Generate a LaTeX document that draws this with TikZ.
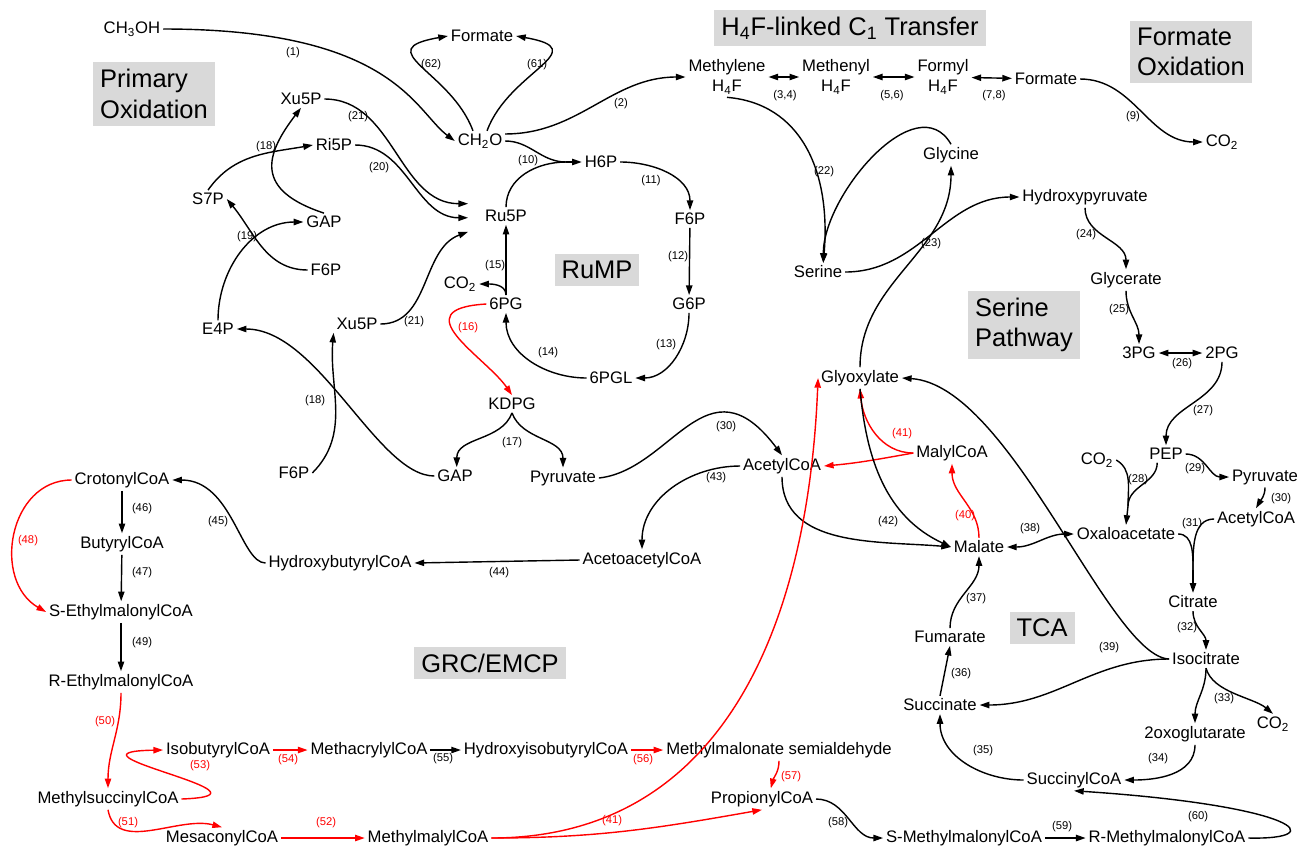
\documentclass[tikz,border=0pt]{standalone}
\usepackage{fontspec}
\setmainfont{Liberation Sans}
\usetikzlibrary{arrows.meta}
\definecolor{boxgray}{RGB}{217,217,217}

\begin{document}
\begin{tikzpicture}[
    x=0.02cm, y=0.02cm,
    met/.style={font=\fontsize{9.5}{11.4}\selectfont, inner sep=1.5pt, align=center},
    pathname/.style={fill=boxgray, font=\fontsize{14.5}{17.4}\selectfont, align=left, inner sep=4pt},
    num/.style={font=\fontsize{6.4}{7.7}\selectfont, inner sep=0pt},
    numred/.style={num, text=red},
    conn/.style={line width=0.8pt},
    arrow/.style={conn, -{Triangle[length=5.5pt,width=3.6pt]}},
    redarrow/.style={arrow, red},
    revarrow/.style={conn, {Triangle[length=5.5pt,width=3.6pt]}-{Triangle[length=5.5pt,width=3.6pt]}}
]
\useasboundingbox (0,0) rectangle (1307,-853);

% Pathway names
\node[pathname] (tprim) at (154,-94) {Primary\\Oxidation};
\node[pathname] (th4f) at (850,-28) {H\textsubscript{4}F-linked C\textsubscript{1} Transfer};
\node[pathname] (tform) at (1191,-52) {Formate\\Oxidation};
\node[pathname] (trump) at (597,-270) {RuMP};
\node[pathname] (tser) at (1024,-325) {Serine\\Pathway};
\node[pathname] (tgrc) at (490,-663) {GRC/EMCP};
\node[pathname] (ttca) at (1042,-628) {TCA};

% Primary oxidation
\node[met] (ch3oh) at (132,-29) {CH\textsubscript{3}OH};
\node[met] (form1) at (482,-36) {Formate};
\node[met] (ch2o) at (480,-141) {CH\textsubscript{2}O};

% H4F-linked C1 transfer
\node[met] (mthf) at (727,-77) {Methylene\\H\textsubscript{4}F};
\node[met] (methf) at (836,-77) {Methenyl\\H\textsubscript{4}F};
\node[met] (fthf) at (943,-77) {Formyl\\H\textsubscript{4}F};
\node[met] (form2) at (1046,-79) {Formate};
\node[met] (co2d) at (1222,-142) {CO\textsubscript{2}};

% Pentose phosphates
\node[met] (xu5pa) at (301,-99) {Xu5P};
\node[met] (ri5p) at (334,-145) {Ri5P};
\node[met] (s7p) at (208,-199) {S7P};
\node[met] (gapa) at (324,-222) {GAP};
\node[met] (f6pa) at (326,-270) {F6P};
\node[met] (e4p) at (218,-329) {E4P};
\node[met] (xu5pb) at (357,-324) {Xu5P};
\node[met] (f6pb) at (294,-473) {F6P};
\node[met] (gapb) at (455,-476) {GAP};

% RuMP
\node[met] (ru5p) at (506,-216) {Ru5P};
\node[met] (h6p) at (601,-162) {H6P};
\node[met] (f6pc) at (690,-219) {F6P};
\node[met] (g6p) at (689,-304) {G6P};
\node[met] (pgl) at (611,-378) {6PGL};
\node[met] (pg) at (506,-304) {6PG};
\node[met] (co2a) at (460,-284) {CO\textsubscript{2}};
\node[met] (kdpg) at (512,-404) {KDPG};
\node[met] (pyra) at (563,-478) {Pyruvate};

% Serine pathway
\node[met] (ser) at (818,-272) {Serine};
\node[met] (gly) at (951,-155) {Glycine};
\node[met] (hpyr) at (1085,-197) {Hydroxypyruvate};
\node[met] (glyc) at (1126,-280) {Glycerate};
\node[met] (pga3) at (1139,-353) {3PG};
\node[met] (pga2) at (1222,-353) {2PG};
\node[met] (pep) at (1166,-454) {PEP};
\node[met] (co2b) at (1097,-460) {CO\textsubscript{2}};
\node[met] (pyrb) at (1265,-477) {Pyruvate};
\node[met] (acoab) at (1256,-519) {AcetylCoA};
\node[met] (oaa) at (1126,-534) {Oxaloacetate};
\node[met] (mal) at (979,-547) {Malate};
\node[met] (malyl) at (952,-453) {MalylCoA};
\node[met] (glyox) at (860,-378) {Glyoxylate};
\node[met] (acoaa) at (782,-466) {AcetylCoA};

% TCA
\node[met] (cit) at (1193,-602) {Citrate};
\node[met] (icit) at (1206,-659) {Isocitrate};
\node[met] (oxog) at (1195,-734) {2oxoglutarate};
\node[met] (co2c) at (1273,-724) {CO\textsubscript{2}};
\node[met] (succoa) at (1074,-780) {SuccinylCoA};
\node[met] (succ) at (940,-705) {Succinate};
\node[met] (fum) at (950,-637) {Fumarate};

% GRC/EMCP
\node[met] (acac) at (642,-560) {AcetoacetylCoA};
\node[met] (hbut) at (340,-563) {HydroxybutyrylCoA};
\node[met] (crot) at (122,-480) {CrotonylCoA};
\node[met] (buty) at (122,-544) {ButyrylCoA};
\node[met] (sethm) at (121,-612) {S-EthylmalonylCoA};
\node[met] (rethm) at (121,-682) {R-EthylmalonylCoA};
\node[met] (msucc) at (108,-799) {MethylsuccinylCoA};
\node[met] (isob) at (218,-750) {IsobutyrylCoA};
\node[met] (meacr) at (369,-750) {MethacrylylCoA};
\node[met] (hiso) at (546,-750) {HydroxyisobutyrylCoA};
\node[met] (mmsa) at (779,-750) {Methylmalonate semialdehyde};
\node[met] (mesa) at (222,-838) {MesaconylCoA};
\node[met] (mmal) at (428,-838) {MethylmalylCoA};
\node[met] (prop) at (762,-799) {PropionylCoA};
\node[met] (smm) at (964,-838) {S-MethylmalonylCoA};
\node[met] (rmm) at (1167,-838) {R-MethylmalonylCoA};

% Merge points and arrow ends
\coordinate (m10) at (566,-162);
\coordinate (m28) at (1128,-506);
\coordinate (m31) at (1193,-570);
\coordinate (ru5pa) at ([xshift=-8pt,yshift=7pt]ru5p.west);
\coordinate (ru5pb) at ([xshift=-8pt,yshift=-1pt]ru5p.west);
\coordinate (ru5pc) at ([xshift=-8pt,yshift=-9pt]ru5p.west);
\coordinate (sera) at ([xshift=3pt]ser.north);

% Reaction numbers
\node[num] (n1) at (293,-53) {(1)};
\node[num] (n62) at (431,-65) {(62)};
\node[num] (n61) at (537,-65) {(61)};
\node[num] (n2) at (621,-104) {(2)};
\node[num] (n3) at (785,-96) {(3,4)};
\node[num] (n5) at (892,-96) {(5,6)};
\node[num] (n7) at (994,-96) {(7,8)};
\node[num] (n9) at (1133,-117) {(9)};
\node[num] (n10) at (528,-161) {(10)};
\node[num] (n11) at (651,-181) {(11)};
\node[num] (n12) at (678,-257) {(12)};
\node[num] (n13) at (666,-345) {(13)};
\node[num] (n14) at (548,-353) {(14)};
\node[num] (n15) at (495,-266) {(15)};
\node[numred] (n16) at (468,-328) {(16)};
\node[num] (n17) at (512,-443) {(17)};
\node[num] (n18a) at (266,-147) {(18)};
\node[num] (n19) at (247,-237) {(19)};
\node[num] (n20) at (379,-168) {(20)};
\node[num] (n21a) at (358,-117) {(21)};
\node[num] (n21b) at (414,-322) {(21)};
\node[num] (n18b) at (315,-401) {(18)};
\node[num] (n22) at (824,-172) {(22)};
\node[num] (n23) at (931,-244) {(23)};
\node[num] (n24) at (1086,-235) {(24)};
\node[num] (n25) at (1119,-310) {(25)};
\node[num] (n26) at (1182,-364) {(26)};
\node[num] (n27) at (1203,-411) {(27)};
\node[num] (n28) at (1138,-480) {(28)};
\node[num] (n29) at (1195,-469) {(29)};
\node[num] (n30b) at (1281,-499) {(30)};
\node[num] (n31) at (1192,-524) {(31)};
\node[num] (n30a) at (726,-427) {(30)};
\node[num] (n32) at (1187,-628) {(32)};
\node[num] (n33) at (1224,-699) {(33)};
\node[num] (n34) at (1158,-759) {(34)};
\node[num] (n35) at (983,-751) {(35)};
\node[num] (n36) at (961,-674) {(36)};
\node[num] (n37) at (976,-599) {(37)};
\node[num] (n38) at (1030,-529) {(38)};
\node[num] (n39) at (1109,-648) {(39)};
\node[numred] (n40) at (965,-516) {(40)};
\node[numred] (n41a) at (902,-434) {(41)};
\node[num] (n42) at (888,-522) {(42)};
\node[num] (n43) at (716,-478) {(43)};
\node[num] (n44) at (499,-573) {(44)};
\node[num] (n45) at (218,-522) {(45)};
\node[num] (n46) at (142,-509) {(46)};
\node[num] (n47) at (142,-573) {(47)};
\node[numred] (n48) at (28,-541) {(48)};
\node[num] (n49) at (142,-643) {(49)};
\node[numred] (n50) at (105,-722) {(50)};
\node[numred] (n51) at (128,-823) {(51)};
\node[numred] (n52) at (326,-823) {(52)};
\node[numred] (n53) at (200,-766) {(53)};
\node[numred] (n54) at (288,-760) {(54)};
\node[num] (n55) at (443,-759) {(55)};
\node[numred] (n56) at (643,-760) {(56)};
\node[numred] (n57) at (791,-777) {(57)};
\node[numred] (n41b) at (612,-821) {(41)};
\node[num] (n58) at (838,-823) {(58)};
\node[num] (n59) at (1062,-827) {(59)};
\node[num] (n60) at (1198,-817) {(60)};

% Primary oxidation arrows
\draw[arrow] (ch3oh.east) .. controls +(230,0) and +(-40,30) .. (ch2o.west);
\draw[arrow] ([xshift=-4pt]ch2o.north) .. controls +(-22,60) and +(-80,-14) .. (form1.west);
\draw[arrow] ([xshift=4pt]ch2o.north) .. controls +(22,60) and +(80,-14) .. (form1.east);
\draw[arrow] ([yshift=4pt]ch2o.east) to[out=0,in=180] (mthf.west);

% H4F arrows
\draw[revarrow] (mthf) -- (methf);
\draw[revarrow] (methf) -- (fthf);
\draw[revarrow] (fthf) -- (form2);
\draw[arrow] (form2.east) to[out=0,in=180] (co2d.west);

% RuMP arrows
\draw[conn] (ch2o.east) to[out=0,in=180] (m10);
\draw[conn] (ru5p.north) to[out=90,in=180] (m10);
\draw[arrow] (m10) -- (h6p.west);
\draw[arrow] (h6p.east) to[out=0,in=90] (f6pc.north);
\draw[arrow] (f6pc) -- (g6p);
\draw[arrow] (g6p.south) to[out=-90,in=0] (pgl.east);
\draw[arrow] (pgl.west) to[out=180,in=-90] (pg.south);
\draw[arrow] (pg.north) -- (ru5p.south);
\draw[arrow] (pg.north) to[out=90,in=0] (co2a.east);
\draw[redarrow] (pg.west) .. controls +(-85,-5) and +(-26,38) .. (kdpg.north);
\draw[arrow] (kdpg.south) to[out=-110,in=90] ([xshift=1pt]gapb.north);
\draw[arrow] (kdpg.south) to[out=-70,in=90] (pyra.north);

% Pentose phosphate arrows
\draw[arrow] (xu5pa.east) to[out=0,in=180] (ru5pa);
\draw[arrow] (ri5p.east) to[out=0,in=180] (ru5pb);
\draw[arrow] (xu5pb.east) to[out=0,in=200] (ru5pc);
\draw[arrow] (s7p.north) to[out=55,in=190] (ri5p.west);
\draw[arrow] (gapa.north) .. controls +(-70,23) and +(-36,-47) .. (xu5pa.south);
\draw[arrow] (e4p.north) to[out=90,in=180] (gapa.west);
\draw[arrow] (f6pa.west) to[out=180,in=-50] (s7p.east);
\draw[arrow] (f6pb.east) to[out=45,in=-95] (xu5pb.south west);
\draw[arrow] (gapb.west) .. controls +(-57,0) and +(82,0) .. (e4p.east);

% Serine pathway arrows
\draw[arrow] (mthf.south) .. controls +(73,-6) and +(8,93) .. (sera);
\draw[arrow] (gly.north) to[out=120,in=90] (sera);
\draw[arrow] (ser.east) to[out=0,in=180] (hpyr.west);
\draw[arrow] (glyox.north) to[out=90,in=-90] (gly.south);
\draw[arrow] (hpyr.south) to[out=-90,in=90] (glyc.north);
\draw[arrow] (glyc.south) to[out=-90,in=90] (pga3.north);
\draw[revarrow] (pga3) -- (pga2);
\draw[arrow] (pga2.south) to[out=-90,in=90] (pep.north);
\draw[conn] (co2b.east) to[out=-30,in=90] (m28);
\draw[conn] ([xshift=-5pt]pep.south) to[out=-90,in=90] (m28);
\draw[arrow] (m28) -- (oaa.north);
\draw[arrow] (pep.east) to[out=0,in=180] (pyrb.west);
\draw[arrow] (pyrb.south) to[out=-90,in=60] (acoab.north);
\draw[revarrow] (mal.east) to[out=0,in=180] (oaa.west);
\draw[redarrow] (mal.north) to[out=90,in=-90] (malyl.south);
\draw[redarrow] (malyl.west) to[out=180,in=-85] (glyox.south);
\draw[redarrow] (malyl.west) to[out=190,in=5] (acoaa.east);
\draw[arrow] (glyox.south) to[out=-85,in=155] (mal.west);
\draw[arrow] (acoaa.south) to[out=-90,in=175] (mal.west);
\draw[arrow] (pyra.east) .. controls +(73,8) and +(-75,100) .. (acoaa.north);

% TCA arrows
\draw[conn] (oaa.east) to[out=0,in=90] (m31);
\draw[conn] (acoab.west) to[out=180,in=90] (m31);
\draw[arrow] (m31) -- (cit.north);
\draw[arrow] (cit.south) to[out=-90,in=90] (icit.north);
\draw[arrow] (icit.south) to[out=-90,in=90] (oxog.north);
\draw[arrow] (icit.south) to[out=-75,in=140,looseness=0.8] (co2c.north);
\draw[arrow] (oxog.south) to[out=-90,in=0] (succoa.east);
\draw[arrow] (succoa.west) to[out=180,in=-90] (succ.south);
\draw[arrow] (succ.north) -- (fum.south);
\draw[arrow] (fum.north) to[out=90,in=-90] (mal.south);
\draw[arrow] (icit.west) to[out=180,in=0] (succ.east);
\draw[arrow] (icit.west) .. controls +(-60,2) and +(109,-7) .. (glyox.east);

% GRC/EMCP arrows
\draw[arrow] (acoaa.west) to[out=180,in=90] (acac.north);
\draw[arrow] (acac.west) -- (hbut.east);
\draw[arrow] (hbut.west) .. controls +(-25,0) and +(60,0) .. (crot.east);
\draw[arrow] (crot) -- (buty);
\draw[arrow] (buty) -- (sethm);
\draw[arrow] (sethm) -- (rethm);
\draw[redarrow] (crot.west) to[out=180,in=150,looseness=1.2] (sethm.west);
\draw[redarrow] (rethm.south) to[out=-90,in=90] (msucc.north);
\draw[redarrow] (msucc.east) .. controls +(110,4) and +(-115,-2) .. (isob.west);
\draw[redarrow] (msucc.south) to[out=-80,in=165] (mesa.north);
\draw[redarrow] (mesa) -- (mmal);
\draw[redarrow] (isob) -- (meacr);
\draw[arrow] (meacr) -- (hiso);
\draw[redarrow] (hiso) -- (mmsa);
\draw[redarrow] (mmsa.south) to[out=-90,in=75] ([xshift=5pt]prop.north);
\draw[redarrow] (mmal.east) .. controls +(230,0) and +(-10,-250) .. (glyox.west);
\draw[redarrow] (mmal.east) to[out=0,in=190] (prop.south);
\draw[arrow] (prop.east) to[out=0,in=180] (smm.west);
\draw[arrow] (smm) -- (rmm);
\draw[arrow] (rmm.east) .. controls +(83,-2) and +(226,-15) .. (succoa.south);

\end{tikzpicture}
\end{document}
